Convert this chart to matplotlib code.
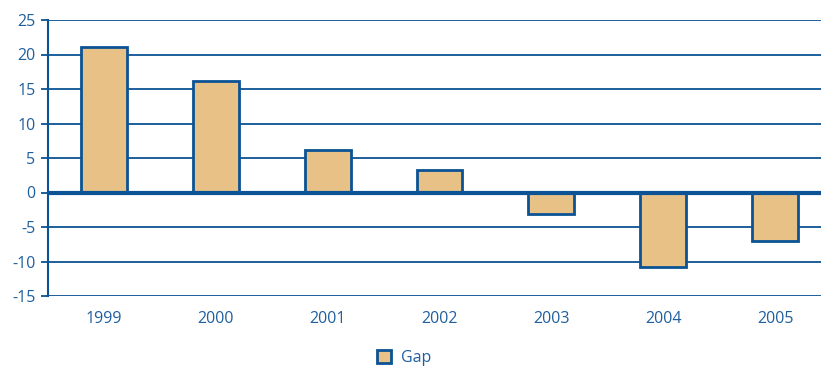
import matplotlib
matplotlib.use("Agg")
import matplotlib.pyplot as plt
from matplotlib.patches import Patch

years = ["1999", "2000", "2001", "2002", "2003", "2004", "2005"]
gap = [21.1, 16.2, 6.1, 3.3, -3.1, -10.8, -7.0]
yticks = [-15, -10, -5, 0, 5, 10, 15, 20, 25]

BLUE = "#1f5f9e"
LINE = "#0b5394"
FILL = "#e8c187"

plt.rcParams["font.family"] = ["Open Sans", "DejaVu Sans"]

fig = plt.figure(figsize=(8.21, 3.67), dpi=100)
ax = fig.add_axes([48 / 821, 71 / 367, (831 - 48) / 821, 276 / 367])

x = list(range(len(years)))
ax.bar(x, gap, width=0.41, color=FILL, edgecolor=LINE, linewidth=2, zorder=3)

ax.set_xlim(-0.5, len(years) - 0.5)
ax.set_ylim(-15, 25)
ax.set_yticks(yticks)
ax.set_yticklabels([str(v) for v in yticks])
ax.set_xticks(x)
ax.set_xticklabels(years)

for v in yticks:
    if v != 0:
        ax.axhline(v, color=LINE, linewidth=1.3, zorder=1)
ax.axhline(0, color=LINE, linewidth=3, zorder=4)

for s in ["top", "right", "bottom"]:
    ax.spines[s].set_visible(False)
ax.spines["left"].set_color(LINE)
ax.spines["left"].set_linewidth(1.5)

ax.tick_params(axis="y", colors=LINE, labelcolor=BLUE, labelsize=11.5, length=5, width=1.3, pad=4)
ax.tick_params(axis="x", length=0, labelcolor=BLUE, labelsize=11.5, pad=11)

handle = Patch(facecolor=FILL, edgecolor=LINE, linewidth=2)
fig.legend([handle], ["Gap"], loc="center", bbox_to_anchor=(404 / 821, 1 - 358 / 367),
           frameon=False, handlelength=0.9, handleheight=0.9, handletextpad=0.6,
           fontsize=11.5, labelcolor=BLUE)

fig.savefig("out.png", dpi=100)
